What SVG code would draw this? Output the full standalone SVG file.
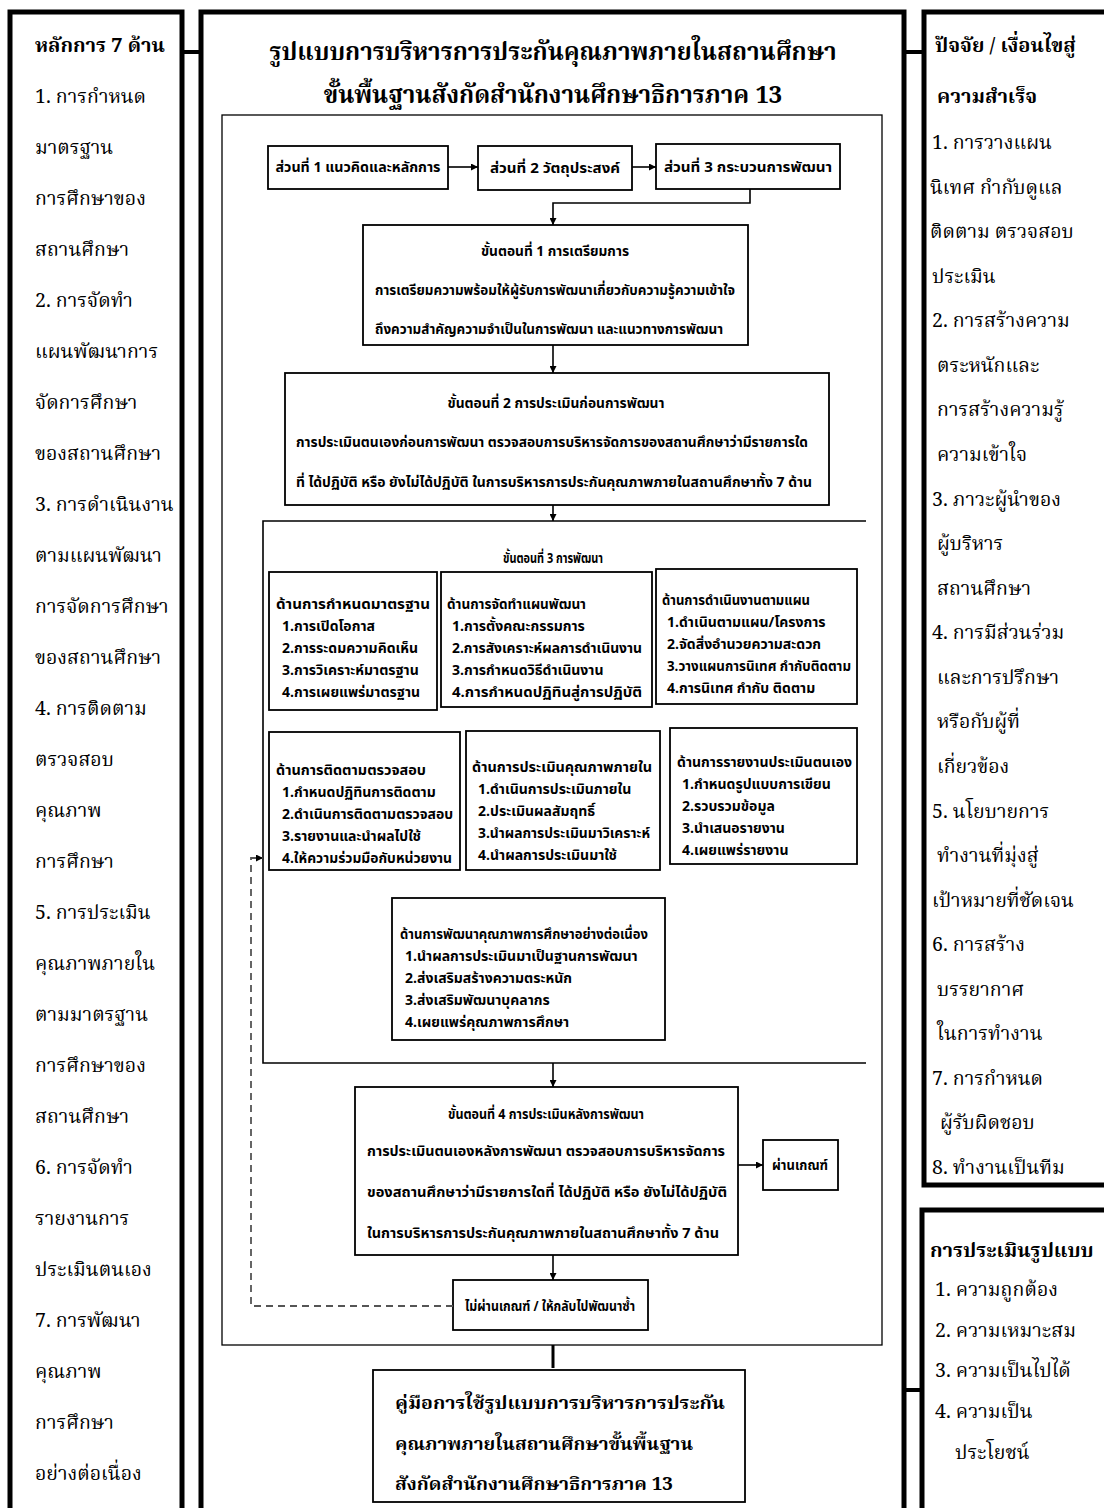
<svg xmlns="http://www.w3.org/2000/svg" width="1104" height="1508" viewBox="0 0 1104 1508">
<defs>
<marker id="ah" viewBox="0 0 10 10" refX="10" refY="5" markerWidth="7" markerHeight="7" orient="auto" markerUnits="userSpaceOnUse">
<path d="M0,0 L10,5 L0,10 z" fill="#000"/>
</marker>
<style>
.thick{fill:#fff;stroke:#000;stroke-width:5}
.box{fill:#fff;stroke:#000;stroke-width:1.8}
.thin{fill:none;stroke:#000;stroke-width:1.3}
.ln{fill:none;stroke:#000;stroke-width:1.6}
.side{font-family:"Noto Serif Thai","Norasi","Kinnari","Noto Sans Thai","Liberation Serif",serif;font-size:19.5px;fill:#000}
.sideb{font-family:"Noto Serif Thai","Norasi","Kinnari","Noto Sans Thai","Liberation Serif",serif;font-size:20px;font-weight:bold;fill:#000}
.ttl{font-family:"Noto Serif Thai","Norasi","Kinnari","Noto Sans Thai","Liberation Serif",serif;font-size:24px;font-weight:bold;fill:#000;text-anchor:middle}
.fc{font-family:"Noto Sans Thai","Noto Serif Thai","Liberation Sans",sans-serif;font-size:14px;font-weight:bold;fill:#000}
.fcm{font-family:"Noto Sans Thai","Noto Serif Thai","Liberation Sans",sans-serif;font-size:14px;font-weight:bold;fill:#000;text-anchor:middle}
.it{font-family:"Noto Sans Thai","Noto Serif Thai","Liberation Sans",sans-serif;font-size:14px;font-weight:bold;fill:#000}
.hb{font-family:"Noto Serif Thai","Norasi","Kinnari","Noto Sans Thai","Liberation Serif",serif;font-size:18px;font-weight:bold;fill:#000}
</style>
</defs>

<!-- Left column -->
<g id="principles">
<rect class="thick" x="10" y="12" width="172" height="1520"/>
<text class="sideb" x="35" y="52">หลักการ 7 ด้าน</text>
<text class="side" x="35" y="103">1. การกำหนด</text>
<text class="side" x="35" y="154">มาตรฐาน</text>
<text class="side" x="35" y="205">การศึกษาของ</text>
<text class="side" x="35" y="256">สถานศึกษา</text>
<text class="side" x="35" y="307">2. การจัดทำ</text>
<text class="side" x="35" y="358">แผนพัฒนาการ</text>
<text class="side" x="35" y="409">จัดการศึกษา</text>
<text class="side" x="35" y="460">ของสถานศึกษา</text>
<text class="side" x="35" y="511">3. การดำเนินงาน</text>
<text class="side" x="35" y="562">ตามแผนพัฒนา</text>
<text class="side" x="35" y="613">การจัดการศึกษา</text>
<text class="side" x="35" y="664">ของสถานศึกษา</text>
<text class="side" x="35" y="715">4. การติดตาม</text>
<text class="side" x="35" y="766">ตรวจสอบ</text>
<text class="side" x="35" y="817">คุณภาพ</text>
<text class="side" x="35" y="868">การศึกษา</text>
<text class="side" x="35" y="919">5. การประเมิน</text>
<text class="side" x="35" y="970">คุณภาพภายใน</text>
<text class="side" x="35" y="1021">ตามมาตรฐาน</text>
<text class="side" x="35" y="1072">การศึกษาของ</text>
<text class="side" x="35" y="1123">สถานศึกษา</text>
<text class="side" x="35" y="1174">6. การจัดทำ</text>
<text class="side" x="35" y="1225">รายงานการ</text>
<text class="side" x="35" y="1276">ประเมินตนเอง</text>
<text class="side" x="35" y="1327">7. การพัฒนา</text>
<text class="side" x="35" y="1378">คุณภาพ</text>
<text class="side" x="35" y="1429">การศึกษา</text>
<text class="side" x="35" y="1480">อย่างต่อเนื่อง</text>
</g>

<!-- Right column: factors -->
<g id="factors">
<rect class="thick" x="924" y="12" width="200" height="1173"/>
<text class="sideb" x="935" y="52">ปัจจัย / เงื่อนไขสู่</text>
<text class="sideb" x="937" y="103">ความสำเร็จ</text>
<text class="side" x="932" y="149">1. การวางแผน</text>
<text class="side" x="930" y="194">นิเทศ กำกับดูแล</text>
<text class="side" x="930" y="238">ติดตาม ตรวจสอบ</text>
<text class="side" x="932" y="283">ประเมิน</text>
<text class="side" x="932" y="327">2. การสร้างความ</text>
<text class="side" x="937" y="372">ตระหนักและ</text>
<text class="side" x="937" y="416">การสร้างความรู้</text>
<text class="side" x="937" y="461">ความเข้าใจ</text>
<text class="side" x="932" y="506">3. ภาวะผู้นำของ</text>
<text class="side" x="937" y="550">ผู้บริหาร</text>
<text class="side" x="937" y="595">สถานศึกษา</text>
<text class="side" x="932" y="639">4. การมีส่วนร่วม</text>
<text class="side" x="937" y="684">และการปรึกษา</text>
<text class="side" x="937" y="728">หรือกับผู้ที่</text>
<text class="side" x="937" y="773">เกี่ยวข้อง</text>
<text class="side" x="932" y="818">5. นโยบายการ</text>
<text class="side" x="937" y="862">ทำงานที่มุ่งสู่</text>
<text class="side" x="932" y="907">เป้าหมายที่ชัดเจน</text>
<text class="side" x="932" y="951">6. การสร้าง</text>
<text class="side" x="937" y="996">บรรยากาศ</text>
<text class="side" x="937" y="1040">ในการทำงาน</text>
<text class="side" x="932" y="1085">7. การกำหนด</text>
<text class="side" x="940" y="1129">ผู้รับผิดชอบ</text>
<text class="side" x="932" y="1174">8. ทำงานเป็นทีม</text>
</g>

<!-- Right column: evaluation -->
<g id="evaluation">
<rect class="thick" x="922" y="1210" width="200" height="320"/>
<text class="sideb" x="930" y="1257">การประเมินรูปแบบ</text>
<text class="side" x="935" y="1296">1. ความถูกต้อง</text>
<text class="side" x="935" y="1337">2. ความเหมาะสม</text>
<text class="side" x="935" y="1377">3. ความเป็นไปได้</text>
<text class="side" x="935" y="1418">4. ความเป็น</text>
<text class="side" x="955" y="1459">ประโยชน์</text>
</g>

<!-- Main model box -->
<g id="model">
<rect class="thick" x="201" y="12" width="703" height="1520"/>
<text class="ttl" x="553" y="60">รูปแบบการบริหารการประกันคุณภาพภายในสถานศึกษา</text>
<text class="ttl" x="553" y="103">ขั้นพื้นฐานสังกัดสำนักงานศึกษาธิการภาค 13</text>
<rect class="thin" x="222" y="115" width="660" height="1230"/>
</g>

<g id="part1">
<rect class="box" x="268" y="146" width="180" height="43"/>
<text class="fcm" x="358" y="172" textLength="165" lengthAdjust="spacingAndGlyphs">ส่วนที่ 1 แนวคิดและหลักการ</text>
</g>
<g id="part2">
<rect class="box" x="478" y="146" width="154" height="44"/>
<text class="fcm" x="555" y="173" textLength="130" lengthAdjust="spacingAndGlyphs">ส่วนที่ 2 วัตถุประสงค์</text>
</g>
<g id="part3">
<rect class="box" x="656" y="144" width="184" height="45"/>
<text class="fcm" x="748" y="172" textLength="168" lengthAdjust="spacingAndGlyphs">ส่วนที่ 3 กระบวนการพัฒนา</text>
</g>

<g id="step1">
<rect class="box" x="363" y="225" width="385" height="120"/>
<text class="fcm" x="555" y="256" textLength="148" lengthAdjust="spacingAndGlyphs">ขั้นตอนที่ 1 การเตรียมการ</text>
<text class="fc" x="375" y="295" textLength="360" lengthAdjust="spacingAndGlyphs">การเตรียมความพร้อมให้ผู้รับการพัฒนาเกี่ยวกับความรู้ความเข้าใจ</text>
<text class="fc" x="375" y="334" textLength="348" lengthAdjust="spacingAndGlyphs">ถึงความสำคัญความจำเป็นในการพัฒนา และแนวทางการพัฒนา</text>
</g>

<g id="step2">
<rect class="box" x="285" y="373" width="544" height="132"/>
<text class="fcm" x="556" y="408" textLength="217" lengthAdjust="spacingAndGlyphs">ขั้นตอนที่ 2 การประเมินก่อนการพัฒนา</text>
<text class="fc" x="296" y="447" textLength="512" lengthAdjust="spacingAndGlyphs">การประเมินตนเองก่อนการพัฒนา ตรวจสอบการบริหารจัดการของสถานศึกษาว่ามีรายการใด</text>
<text class="fc" x="296" y="487" textLength="516" lengthAdjust="spacingAndGlyphs">ที่ ได้ปฏิบัติ หรือ ยังไม่ได้ปฏิบัติ ในการบริหารการประกันคุณภาพภายในสถานศึกษาทั้ง 7 ด้าน</text>
</g>

<g id="step3">
<path class="ln" d="M866,521 H263 V1063 H866"/>
<text class="fcm" x="553" y="563" textLength="100" lengthAdjust="spacingAndGlyphs">ขั้นตอนที่ 3 การพัฒนา</text>
</g>

<g id="d1">
<rect class="box" x="269" y="572" width="168" height="138"/>
<text class="fc" x="276" y="609" textLength="154" lengthAdjust="spacingAndGlyphs">ด้านการกำหนดมาตรฐาน</text>
<text class="it" x="282" y="631">1.การเปิดโอกาส</text>
<text class="it" x="282" y="653">2.การระดมความคิดเห็น</text>
<text class="it" x="282" y="675">3.การวิเคราะห์มาตรฐาน</text>
<text class="it" x="282" y="697">4.การเผยแพร่มาตรฐาน</text>
</g>
<g id="d2">
<rect class="box" x="441" y="572" width="211" height="135"/>
<text class="fc" x="447" y="609" textLength="139" lengthAdjust="spacingAndGlyphs">ด้านการจัดทำแผนพัฒนา</text>
<text class="it" x="452" y="631">1.การตั้งคณะกรรมการ</text>
<text class="it" x="452" y="653" textLength="190" lengthAdjust="spacingAndGlyphs">2.การสังเคราะห์ผลการดำเนินงาน</text>
<text class="it" x="452" y="675">3.การกำหนดวิธีดำเนินงาน</text>
<text class="it" x="452" y="697" textLength="190" lengthAdjust="spacingAndGlyphs">4.การกำหนดปฏิทินสู่การปฏิบัติ</text>
</g>
<g id="d3">
<rect class="box" x="656" y="569" width="201" height="135"/>
<text class="fc" x="662" y="605" textLength="148" lengthAdjust="spacingAndGlyphs">ด้านการดำเนินงานตามแผน</text>
<text class="it" x="667" y="627">1.ดำเนินตามแผน/โครงการ</text>
<text class="it" x="667" y="649">2.จัดสิ่งอำนวยความสะดวก</text>
<text class="it" x="667" y="671" textLength="184" lengthAdjust="spacingAndGlyphs">3.วางแผนการนิเทศ กำกับติดตาม</text>
<text class="it" x="667" y="693">4.การนิเทศ กำกับ ติดตาม</text>
</g>
<g id="d4">
<rect class="box" x="269" y="732" width="191" height="138"/>
<text class="fc" x="276" y="775" textLength="150" lengthAdjust="spacingAndGlyphs">ด้านการติดตามตรวจสอบ</text>
<text class="it" x="282" y="797">1.กำหนดปฏิทินการติดตาม</text>
<text class="it" x="282" y="819">2.ดำเนินการติดตามตรวจสอบ</text>
<text class="it" x="282" y="841">3.รายงานและนำผลไปใช้</text>
<text class="it" x="282" y="863" textLength="170" lengthAdjust="spacingAndGlyphs">4.ให้ความร่วมมือกับหน่วยงาน</text>
</g>
<g id="d5">
<rect class="box" x="466" y="731" width="194" height="139"/>
<text class="fc" x="472" y="772" textLength="180" lengthAdjust="spacingAndGlyphs">ด้านการประเมินคุณภาพภายใน</text>
<text class="it" x="478" y="794">1.ดำเนินการประเมินภายใน</text>
<text class="it" x="478" y="816">2.ประเมินผลสัมฤทธิ์</text>
<text class="it" x="478" y="838" textLength="172" lengthAdjust="spacingAndGlyphs">3.นำผลการประเมินมาวิเคราะห์</text>
<text class="it" x="478" y="860">4.นำผลการประเมินมาใช้</text>
</g>
<g id="d6">
<rect class="box" x="670" y="728" width="187" height="136"/>
<text class="fc" x="677" y="767" textLength="175" lengthAdjust="spacingAndGlyphs">ด้านการรายงานประเมินตนเอง</text>
<text class="it" x="682" y="789">1.กำหนดรูปแบบการเขียน</text>
<text class="it" x="682" y="811">2.รวบรวมข้อมูล</text>
<text class="it" x="682" y="833">3.นำเสนอรายงาน</text>
<text class="it" x="682" y="855">4.เผยแพร่รายงาน</text>
</g>
<g id="d7">
<rect class="box" x="392" y="898" width="273" height="142"/>
<text class="fc" x="400" y="939" textLength="248" lengthAdjust="spacingAndGlyphs">ด้านการพัฒนาคุณภาพการศึกษาอย่างต่อเนื่อง</text>
<text class="it" x="405" y="961">1.นำผลการประเมินมาเป็นฐานการพัฒนา</text>
<text class="it" x="405" y="983">2.ส่งเสริมสร้างความตระหนัก</text>
<text class="it" x="405" y="1005">3.ส่งเสริมพัฒนาบุคลากร</text>
<text class="it" x="405" y="1027">4.เผยแพร่คุณภาพการศึกษา</text>
</g>

<g id="step4">
<rect class="box" x="355" y="1087" width="383" height="168"/>
<text class="fcm" x="546" y="1119" textLength="196" lengthAdjust="spacingAndGlyphs">ขั้นตอนที่ 4 การประเมินหลังการพัฒนา</text>
<text class="fc" x="367" y="1156" textLength="358" lengthAdjust="spacingAndGlyphs">การประเมินตนเองหลังการพัฒนา ตรวจสอบการบริหารจัดการ</text>
<text class="fc" x="367" y="1197" textLength="360" lengthAdjust="spacingAndGlyphs">ของสถานศึกษาว่ามีรายการใดที่ ได้ปฏิบัติ หรือ ยังไม่ได้ปฏิบัติ</text>
<text class="fc" x="367" y="1238" textLength="352" lengthAdjust="spacingAndGlyphs">ในการบริหารการประกันคุณภาพภายในสถานศึกษาทั้ง 7 ด้าน</text>
</g>

<g id="pass">
<rect class="box" x="763" y="1140" width="75" height="50"/>
<text class="fcm" x="800" y="1170" textLength="56" lengthAdjust="spacingAndGlyphs">ผ่านเกณฑ์</text>
</g>

<g id="fail">
<rect class="box" x="453" y="1280" width="195" height="50"/>
<text class="fcm" x="550" y="1311" textLength="170" lengthAdjust="spacingAndGlyphs">ไม่ผ่านเกณฑ์ / ให้กลับไปพัฒนาซ้ำ</text>
</g>

<g id="handbook">
<rect class="box" x="373" y="1370" width="372" height="132"/>
<text class="hb" x="395" y="1409" textLength="330" lengthAdjust="spacingAndGlyphs">คู่มือการใช้รูปแบบการบริหารการประกัน</text>
<text class="hb" x="395" y="1450" textLength="298" lengthAdjust="spacingAndGlyphs">คุณภาพภายในสถานศึกษาขั้นพื้นฐาน</text>
<text class="hb" x="395" y="1490" textLength="278" lengthAdjust="spacingAndGlyphs">สังกัดสำนักงานศึกษาธิการภาค 13</text>
</g>

<g id="connectors">
<line x1="182" y1="52" x2="201" y2="52" stroke="#000" stroke-width="4"/>
<line x1="904" y1="52" x2="924" y2="52" stroke="#000" stroke-width="4"/>
<line x1="904" y1="1390" x2="922" y2="1390" stroke="#000" stroke-width="4"/>
<line class="ln" x1="448" y1="167" x2="478" y2="167" marker-end="url(#ah)"/>
<line class="ln" x1="632" y1="167" x2="656" y2="167" marker-end="url(#ah)"/>
<path class="ln" d="M750,189 V203 H553 V225" marker-end="url(#ah)"/>
<line class="ln" x1="553" y1="345" x2="553" y2="373" marker-end="url(#ah)"/>
<line class="ln" x1="553" y1="505" x2="553" y2="521" marker-end="url(#ah)"/>
<line class="ln" x1="553" y1="1063" x2="553" y2="1087" marker-end="url(#ah)"/>
<line class="ln" x1="738" y1="1165" x2="763" y2="1165" marker-end="url(#ah)"/>
<line class="ln" x1="553" y1="1255" x2="553" y2="1280" marker-end="url(#ah)"/>
<path d="M453,1306 H251 V858 H263" fill="none" stroke="#555" stroke-width="1.8" stroke-dasharray="7,5" marker-end="url(#ah)"/>
<line x1="553" y1="1345" x2="553" y2="1368" stroke="#000" stroke-width="3"/>
</g>
</svg>
